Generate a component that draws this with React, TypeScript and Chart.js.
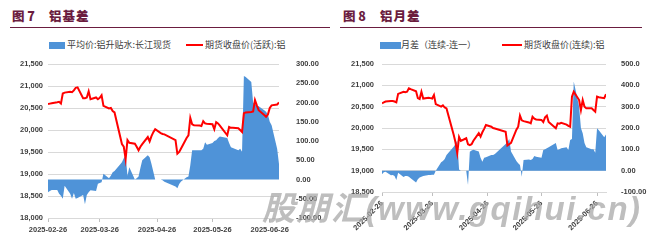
import React, { useEffect, useRef } from 'react';
import { Chart, registerables } from 'chart.js';

Chart.register(...registerables);

// ---------------- data ----------------
const tradeDates = [
  '2025-02-26', '2025-02-27', '2025-02-28',
  '2025-03-03', '2025-03-04', '2025-03-05', '2025-03-06', '2025-03-07',
  '2025-03-10', '2025-03-11', '2025-03-12', '2025-03-13', '2025-03-14',
  '2025-03-17', '2025-03-18', '2025-03-19', '2025-03-20', '2025-03-21',
  '2025-03-24', '2025-03-25', '2025-03-26', '2025-03-27', '2025-03-28',
  '2025-03-31', '2025-04-01', '2025-04-02', '2025-04-03',
  '2025-04-07', '2025-04-08', '2025-04-09', '2025-04-10', '2025-04-11',
  '2025-04-14', '2025-04-15', '2025-04-16', '2025-04-17', '2025-04-18',
  '2025-04-21', '2025-04-22', '2025-04-23', '2025-04-24', '2025-04-25',
  '2025-04-28', '2025-04-29', '2025-04-30',
  '2025-05-06', '2025-05-07', '2025-05-08', '2025-05-09',
  '2025-05-12', '2025-05-13', '2025-05-14', '2025-05-15', '2025-05-16',
  '2025-05-19', '2025-05-20', '2025-05-21', '2025-05-22', '2025-05-23',
  '2025-05-26', '2025-05-27', '2025-05-28', '2025-05-29', '2025-05-30',
  '2025-06-03', '2025-06-04', '2025-06-05', '2025-06-06',
  '2025-06-09', '2025-06-10', '2025-06-11', '2025-06-12', '2025-06-13',
  '2025-06-16', '2025-06-17', '2025-06-18', '2025-06-19', '2025-06-20',
  '2025-06-23', '2025-06-24', '2025-06-25', '2025-06-26', '2025-06-27',
  '2025-06-30', '2025-07-01',
];

const xTickLabels = ['2025-02-26', '2025-03-26', '2025-04-26', '2025-05-26', '2025-06-26'];

// 图7: 平均价:铝升贴水:长江现货 (right axis)
const basisSpot = [
  -33, -30, -27, -27, -37, -42, -50, -16, -37, -50,
  -35, -50, -48, -40, -64, -40, -33, -28, -30, -11,
  -9, -7, 15, 3, 10, 19, 22, 45, 55, 63,
  10, 32, 0, 3, 8, 30, 50, 63, 58, 40,
  20, 0, 0, -2, -6, -18, -23, -12, -5, 6,
  8, 37, 76, 76, 76, 76, 80, 97, 90, 95,
  100, 102, 108, 112, 108, 95, 84, 82, 76, 80,
  72, 269, 266, 253, 200, 195, 192, 190, 180, 176,
  168, 150, 141, 80, 40,
];

// 图7: 期货收盘价(活跃):铝 (left axis)
const futuresActive = [
  20590, 20600, 20610, 20630, 20640, 20600, 20830, 20850, 20870, 20860,
  20900, 20960, 20970, 20720, 20720, 20740, 20880, 20700, 20740, 20700,
  20730, 20790, 20550, 20490, 20500, 20430, 20400, 19680, 19620, 19340,
  19770, 19710, 19690, 19620, 19540, 19620, 19680, 19840, 19740, 19860,
  19950, 20020, 19930, 19910, 19900, 19770, 19460, 19500, 19580, 19820,
  19880, 20275, 20130, 20110, 20100, 20090, 20200, 20150, 20140, 20130,
  20020, 20180, 20150, 20100, 19880, 20070, 20050, 20050, 20040, 20000,
  19955, 20380, 20400, 20410, 20420, 20680, 20560, 20450, 20340, 20300,
  20350, 20500, 20560, 20580, 20625,
];

// 图8: 月差（连续-连一） (right axis)
const monthSpread = [
  -17, -8, -5, -22, -20, -25, -44, -10, -30, -25,
  -25, -28, -35, -56, -40, -32, -28, -25, -20, -20,
  -19, -19, 0, 40, 45, 55, 74, 112, 125, 141,
  5, 0, 0, -67, 89, 95, 98, 90, 60, 42,
  60, 63, 74, 73, 78, 125, 133, 148, 90, 45,
  35, 27, -28, 50, 52, 50, 55, 69, 65, 60,
  97, 100, 105, 110, 130, 97, 100, 105, 110, 97,
  144, 148, 418, 300, 200, 175, 130, 110, 100, 100,
  84, 199, 190, 157, 170,
];

// 图8: 期货收盘价(连续):铝 (left axis)
const futuresContinuous = [
  20580, 20600, 20620, 20633, 20633, 20620, 20600, 20800, 20850, 20840,
  20850, 20930, 20910, 20860, 20700, 20680, 20850, 20690, 20710, 20700,
  20690, 20773, 20560, 20500, 20530, 20480, 20460, 19840, 19665, 19410,
  19790, 19700, 19760, 19620, 19600, 19620, 19700, 19880, 19800, 19900,
  19980, 20070, 20030, 20000, 19990, 19913, 19590, 19620, 19650, 19960,
  20030, 20289, 20180, 20160, 20130, 20110, 20265, 20220, 20200, 20190,
  20140, 20250, 20290, 20140, 19993, 20110, 20100, 20120, 20080, 20050,
  20030, 20734, 20852, 20656, 20422, 20656, 20500, 20460, 20460, 20420,
  20382, 20734, 20720, 20700, 20790,
];

const basisRightTicks = ['-100.00', '-50.00', '0.00', '50.00', '100.00', '150.00', '200.00', '250.00', '300.00'];
const spreadRightTicks = ['-100.00', '0.00', '100.0', '200.0', '300.0', '400.0', '500.0'];

// ---------------- styling ----------------
const BLUE = '#4f93d8';
const RED = '#ff0000';
const MAROON = '#6b1d3f';
const TICK_COLOR = '#404040';
const GRID_COLOR = '#d9d9d9';
const TICK_FONT = { family: "'Liberation Sans', Arial, sans-serif", size: 7.5, weight: 'bold' as const };
const CJK = "'Noto Sans CJK SC', 'Liberation Sans', sans-serif";

const dayOf = (s: string) => (Date.parse(s) - Date.parse(tradeDates[0])) / 86400000;

type PanelProps = {
  left: number;
  lineData: number[];
  areaData: number[];
  lineLabel: string;
  areaLabel: string;
  yMin: number; yMax: number; yStep: number;
  y1Min: number; y1Max: number; y1Step: number;
  y1Labels: string[];
  yWidth: number; y1Width: number; xHeight: number;
  yPad: number; y1Pad: number;
  rotate: number;
};

function Panel(p: PanelProps) {
  const ref = useRef<HTMLCanvasElement | null>(null);
  useEffect(() => {
    const xs = tradeDates.map(dayOf);
    const tickVals = xTickLabels.map(dayOf);
    const xMax = xs[xs.length - 1];
    const chart = new Chart(ref.current as HTMLCanvasElement, {
      type: 'line',
      data: {
        datasets: [
          {
            label: p.lineLabel,
            data: xs.map((x, i) => ({ x, y: p.lineData[i] })),
            yAxisID: 'y',
            borderColor: RED,
            backgroundColor: RED,
            borderWidth: 2,
            pointRadius: 0,
            tension: 0,
            fill: false,
            order: 0,
          },
          {
            label: p.areaLabel,
            data: xs.map((x, i) => ({ x, y: p.areaData[i] })),
            yAxisID: 'y1',
            borderColor: 'rgba(0,0,0,0)',
            borderWidth: 0,
            backgroundColor: BLUE,
            pointRadius: 0,
            tension: 0,
            fill: 'origin',
            order: 1,
          },
        ],
      },
      options: {
        animation: false,
        responsive: false,
        maintainAspectRatio: false,
        layout: { padding: { top: 14, left: 0, right: 0, bottom: 0 } },
        plugins: { legend: { display: false }, tooltip: { enabled: false } },
        scales: {
          x: {
            type: 'linear',
            min: 0,
            max: xMax,
            afterBuildTicks: (s: any) => { s.ticks = tickVals.map((v) => ({ value: v })); },
            afterFit: (s: any) => { s.height = p.xHeight; },
            ticks: {
              autoSkip: false,
              maxRotation: p.rotate,
              minRotation: p.rotate,
              padding: 3,
              color: TICK_COLOR,
              font: TICK_FONT,
              callback: (_v: any, i: number) => xTickLabels[i],
            },
            grid: { drawOnChartArea: false, drawTicks: true, tickLength: 4, color: '#bfbfbf' },
            border: { display: true, color: GRID_COLOR },
          },
          y: {
            position: 'left',
            min: p.yMin,
            max: p.yMax,
            afterFit: (s: any) => { s.width = p.yWidth; },
            ticks: {
              stepSize: p.yStep,
              padding: p.yPad,
              color: TICK_COLOR,
              font: TICK_FONT,
              callback: (v: any) => Number(v).toLocaleString('en-US'),
            },
            grid: { color: GRID_COLOR, drawTicks: false },
            border: { display: false },
          },
          y1: {
            position: 'right',
            min: p.y1Min,
            max: p.y1Max,
            afterFit: (s: any) => { s.width = p.y1Width; },
            ticks: {
              stepSize: p.y1Step,
              padding: p.y1Pad,
              color: TICK_COLOR,
              font: TICK_FONT,
              callback: (v: any) => p.y1Labels[Math.round((Number(v) - p.y1Min) / p.y1Step)],
            },
            grid: { display: false },
            border: { display: false },
          },
        },
      },
    } as any);
    return () => chart.destroy();
  }, []);
  return (
    <canvas
      ref={ref}
      width={332}
      height={191}
      style={{ position: 'absolute', left: p.left, top: 50, width: 332, height: 191 }}
    />
  );
}

const abs = (s: React.CSSProperties): React.CSSProperties => ({ position: 'absolute', ...s });

function Header(props: { left: number; lineEnd: number; num: string; name: string; numLeft: number; nameLeft: number }) {
  return (
    <>
      <div style={abs({ left: props.numLeft, top: 8, fontFamily: CJK, fontWeight: 900, fontSize: 12.5, color: MAROON, lineHeight: '16px', whiteSpace: 'nowrap' })}>
        {props.num}
      </div>
      <div style={abs({ left: props.nameLeft, top: 8, fontFamily: CJK, fontWeight: 900, fontSize: 12.5, color: MAROON, lineHeight: '16px', whiteSpace: 'nowrap', letterSpacing: 1 })}>
        {props.name}
      </div>
      <div style={abs({ left: props.left, top: 27, width: props.lineEnd - props.left, height: 1, background: MAROON })} />
    </>
  );
}

const legendText: React.CSSProperties = { fontFamily: CJK, fontSize: 9, color: '#404040', lineHeight: '12px', top: 39, whiteSpace: 'nowrap' };

export default function App() {
  return (
    <div style={{ position: 'absolute', left: 0, top: 0, width: 664, height: 241, background: '#fff', overflow: 'hidden' }}>
      <Header left={10} lineEnd={330} num="图 7" name="铝基差" numLeft={12} nameLeft={49} />
      <Header left={340} lineEnd={642} num="图 8" name="铝月差" numLeft={343} nameLeft={380} />

      {/* legend 图7 */}
      <div style={abs({ left: 49, top: 42, width: 16, height: 7, background: BLUE })} />
      <div style={abs({ ...legendText, left: 67 })}>平均价:铝升贴水:长江现货</div>
      <div style={abs({ left: 186, top: 44, width: 17, height: 2, background: RED })} />
      <div style={abs({ ...legendText, left: 205 })}>期货收盘价(活跃):铝</div>

      {/* legend 图8 */}
      <div style={abs({ left: 380, top: 42, width: 21, height: 7, background: BLUE })} />
      <div style={abs({ ...legendText, left: 401 })}>月差（连续-连一）</div>
      <div style={abs({ left: 502, top: 44, width: 20, height: 2, background: RED })} />
      <div style={abs({ ...legendText, left: 524 })}>期货收盘价(连续):铝</div>

      <Panel
        left={0}
        lineData={futuresActive}
        areaData={basisSpot}
        lineLabel="期货收盘价(活跃):铝"
        areaLabel="平均价:铝升贴水:长江现货"
        yMin={18000} yMax={21500} yStep={500}
        y1Min={-100} y1Max={300} y1Step={50}
        y1Labels={basisRightTicks}
        yWidth={48} y1Width={53} xHeight={23}
        yPad={5} y1Pad={9}
        rotate={0}
      />
      <Panel
        left={332}
        lineData={futuresContinuous}
        areaData={monthSpread}
        lineLabel="期货收盘价(连续):铝"
        areaLabel="月差（连续-连一）"
        yMin={18500} yMax={21500} yStep={500}
        y1Min={-100} y1Max={500} y1Step={100}
        y1Labels={spreadRightTicks}
        yWidth={50} y1Width={58} xHeight={49}
        yPad={8} y1Pad={7}
        rotate={45}
      />

      <div
        style={abs({
          left: 262,
          top: 189,
          fontFamily: "'Liberation Sans', 'Noto Sans CJK SC', sans-serif",
          fontStyle: 'italic',
          fontWeight: 'bold',
          fontSize: 33,
          lineHeight: '40px',
          letterSpacing: 1.5,
          color: 'rgba(165,165,165,0.72)',
          whiteSpace: 'nowrap',
          pointerEvents: 'none',
        })}
      >
        股朋汇(www.gqihui.cn)
      </div>
    </div>
  );
}
